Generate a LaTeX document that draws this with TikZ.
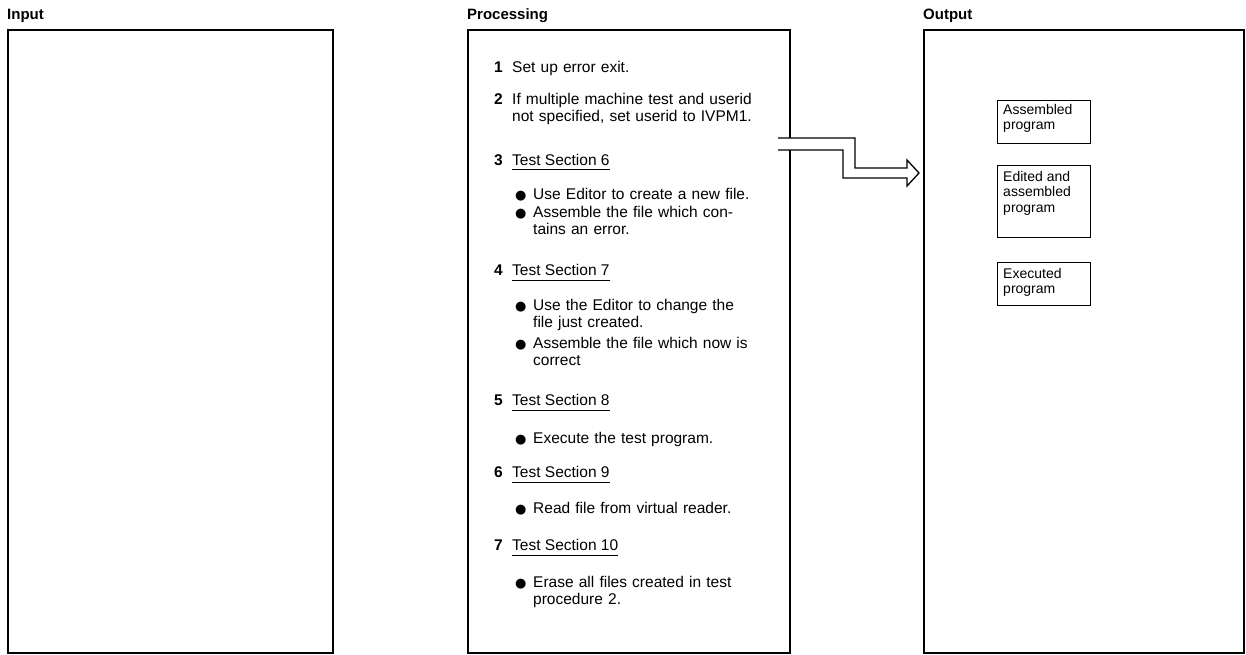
\documentclass[tikz,border=0pt]{standalone}
\usepackage{fontspec}
\setmainfont{Liberation Sans}
\newfontfamily\symfont{DejaVu Sans}
\begin{document}
\begin{tikzpicture}[x=1pt,y=-1pt,
  panel/.style={draw, line width=1.8pt, anchor=north west, inner sep=0pt},
  title/.style={anchor=base west, inner sep=0pt, font=\fontsize{15}{17}\selectfont\bfseries},
  txt/.style={anchor=base west, inner sep=0pt, align=left, text width=250pt,
              font=\fontsize{15.5}{17}\selectfont},
  num/.style={anchor=base west, inner sep=0pt, font=\fontsize{15.5}{17}\selectfont\bfseries},
  head/.style={txt, text width={}},
  uline/.style={line width=1pt},
  dot/.style={anchor=base west, inner sep=0pt, font=\fontsize{13}{17}\selectfont\symfont},
  obox/.style={draw, line width=1.3pt, anchor=north west, inner sep=0pt, minimum width=93pt},
  otext/.style={anchor=north west, inner sep=0pt, align=left, font=\fontsize{14}{15.5}\selectfont},
  fat/.style={line width=1.3pt, line join=miter}]
\useasboundingbox (0,0) rectangle (1246,655);

% column titles
\node[title] (tin)  at (7,20)   {Input};
\node[title] (tpro) at (467,20) {Processing};
\node[title] (tout) at (923,20) {Output};

% the three panels
\node[panel, minimum width=325pt, minimum height=623pt] (inbox)   at (7,29)   {};
\node[panel, minimum width=322pt, minimum height=623pt] (procbox) at (467,29) {};
\node[panel, minimum width=320pt, minimum height=623pt] (outbox)  at (923,29) {};

% processing steps
\node[num] (n1) at (494,73) {1};
\node[txt] (s1) at (512,73) {Set up error exit.};

\node[num] (n2) at (494,105) {2};
\node[txt] (s2) at (512,105) {If multiple machine test and userid\\not specified, set userid to IVPM1.};

\node[num] (n3) at (494,165) {3};
\node[head] (h3) at (512,165) {Test Section 6};
\draw[uline] ([yshift=-5pt]h3.base west) -- ([yshift=-5pt]h3.base east);
\node[dot] (d3a) at (515,199) {●};
\node[txt] (b3a) at (533,199) {Use Editor to create a new file.};
\node[dot] (d3b) at (515,217) {●};
\node[txt] (b3b) at (533,217) {Assemble the file which con-\\tains an error.};

\node[num] (n4) at (494,275) {4};
\node[head] (h4) at (512,275) {Test Section 7};
\draw[uline] ([yshift=-5pt]h4.base west) -- ([yshift=-5pt]h4.base east);
\node[dot] (d4a) at (515,310) {●};
\node[txt] (b4a) at (533,310) {Use the Editor to change the\\file just created.};
\node[dot] (d4b) at (515,348) {●};
\node[txt] (b4b) at (533,348) {Assemble the file which now is\\correct};

\node[num] (n5) at (494,405) {5};
\node[head] (h5) at (512,405) {Test Section 8};
\draw[uline] ([yshift=-5pt]h5.base west) -- ([yshift=-5pt]h5.base east);
\node[dot] (d5a) at (515,443) {●};
\node[txt] (b5a) at (533,443) {Execute the test program.};

\node[num] (n6) at (494,477) {6};
\node[head] (h6) at (512,477) {Test Section 9};
\draw[uline] ([yshift=-5pt]h6.base west) -- ([yshift=-5pt]h6.base east);
\node[dot] (d6a) at (515,513) {●};
\node[txt] (b6a) at (533,513) {Read file from virtual reader.};

\node[num] (n7) at (494,550) {7};
\node[head] (h7) at (512,550) {Test Section 10};
\draw[uline] ([yshift=-5pt]h7.base west) -- ([yshift=-5pt]h7.base east);
\node[dot] (d7a) at (515,587) {●};
\node[txt] (b7a) at (533,587) {Erase all files created in test\\procedure 2.};

% output items
\node[obox, minimum height=43pt] (o1) at (997,100) {};
\node[otext] (o1t) at ([xshift=6pt,yshift=-4pt]o1.north west) {Assembled\\program};
\node[obox, minimum height=72pt] (o2) at (997,165) {};
\node[otext] (o2t) at ([xshift=6pt,yshift=-6pt]o2.north west) {Edited and\\assembled\\program};
\node[obox, minimum height=43pt] (o3) at (997,262) {};
\node[otext] (o3t) at ([xshift=6pt,yshift=-6pt]o3.north west) {Executed\\program};

% wide arrow from the processing panel to the output panel
\coordinate (ua) at (778,138);
\coordinate (la) at (778,150);
\coordinate (tip) at ([xshift=-4pt]outbox.west |- 0,173);
\fill[white] (ua) -| (855,168) -- (907,168) -- (907,178) -- (843,178) |- (la) -- cycle;
\draw[fat] (ua) -| (855,168) -- (907,168) -- (907,160) -- (tip) -- (907,186) -- (907,178) -- (843,178) |- (la);
\end{tikzpicture}
\end{document}
